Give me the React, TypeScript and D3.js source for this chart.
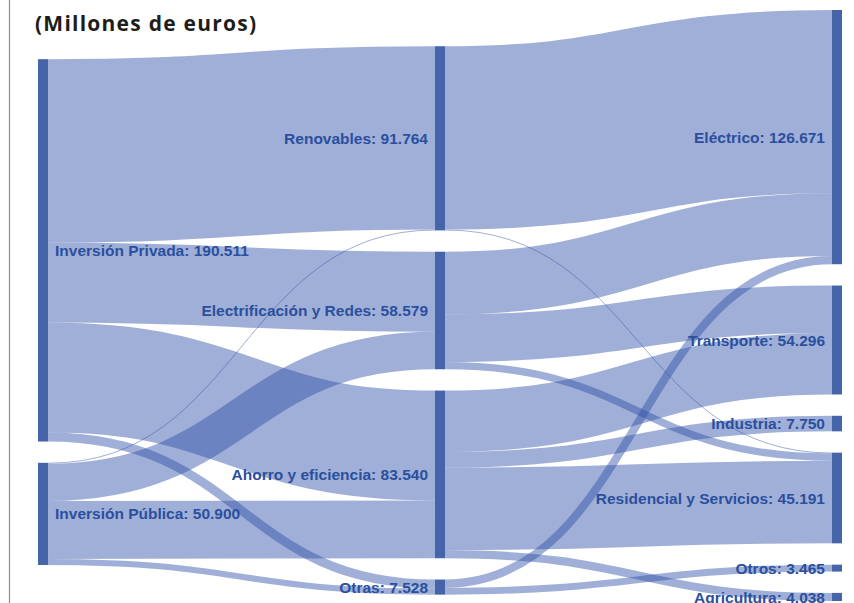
import { useMemo } from "react";
import * as d3 from "d3";

const W = 854;
const H = 603;

// columnas del diagrama
const fuentes = ["Inversión Privada", "Inversión Pública"];
const ambitos = ["Renovables", "Electrificación y Redes", "Ahorro y eficiencia", "Otras"];
const sectores = ["Eléctrico", "Transporte", "Industria", "Residencial y Servicios", "Otros", "Agricultura"];

// flujos en millones de euros
const flujosInversion: [string, string, number][] = [
  ["Inversión Privada", "Renovables", 91364],
  ["Inversión Privada", "Electrificación y Redes", 39900],
  ["Inversión Privada", "Ahorro y eficiencia", 54750],
  ["Inversión Privada", "Otras", 4497],
  ["Inversión Pública", "Renovables", 400],
  ["Inversión Pública", "Electrificación y Redes", 18679],
  ["Inversión Pública", "Ahorro y eficiencia", 28790],
  ["Inversión Pública", "Otras", 3031],
];

const flujosSector: [string, string, number][] = [
  ["Renovables", "Eléctrico", 91364],
  ["Renovables", "Residencial y Servicios", 400],
  ["Electrificación y Redes", "Eléctrico", 31244],
  ["Electrificación y Redes", "Transporte", 23696],
  ["Electrificación y Redes", "Residencial y Servicios", 3639],
  ["Ahorro y eficiencia", "Transporte", 30600],
  ["Ahorro y eficiencia", "Industria", 7750],
  ["Ahorro y eficiencia", "Residencial y Servicios", 41152],
  ["Ahorro y eficiencia", "Agricultura", 4038],
  ["Otras", "Eléctrico", 4063],
  ["Otras", "Otros", 3465],
];

type SNode = {
  name: string; index: number; layer: number; value: number;
  sourceLinks: SLink[]; targetLinks: SLink[];
  x0: number; x1: number; y0: number; y1: number;
};
type SLink = { source: SNode; target: SNode; value: number; index: number; width: number; y0: number; y1: number };

// sankey al estilo del plugin clásico de d3: apilado inicial, una pasada
// de relajación de derecha a izquierda y luego resolución de solapes (orden fijo)
function layoutSankey(cols: string[][], flows: [string, string, number][],
  x0: number, x1: number, y0: number, y1: number, dx: number, py: number) {
  const byName = new Map<string, SNode>();
  const nodes: SNode[] = [];
  cols.forEach((col, layer) => col.forEach((name) => {
    const n: SNode = { name, index: nodes.length, layer, value: 0, sourceLinks: [], targetLinks: [], x0: 0, x1: 0, y0: 0, y1: 0 };
    nodes.push(n); byName.set(name, n);
  }));
  const links: SLink[] = flows.map(([s, t, v], i) => ({ source: byName.get(s)!, target: byName.get(t)!, value: v, index: i, width: 0, y0: 0, y1: 0 }));
  links.forEach((l) => { l.source.sourceLinks.push(l); l.target.targetLinks.push(l); });
  nodes.forEach((n) => { n.value = Math.max(d3.sum(n.sourceLinks, (l) => l.value), d3.sum(n.targetLinks, (l) => l.value)); });

  const columns = cols.map((c) => c.map((name) => byName.get(name)!));
  const kx = (x1 - x0 - dx) / (columns.length - 1);
  nodes.forEach((n) => { n.x0 = x0 + n.layer * kx; n.x1 = n.x0 + dx; });

  const ky = d3.min(columns, (c) => (y1 - y0 - (c.length - 1) * py) / d3.sum(c, (n) => n.value))!;
  links.forEach((l) => { l.width = l.value * ky; });
  const move = (n: SNode, d: number) => { n.y0 += d; n.y1 += d; };
  const center = (n: SNode) => (n.y0 + n.y1) / 2;

  const resolve = (col: SNode[]) => {
    let y = y0;
    for (const n of col) { const d = y - n.y0; if (d > 0) move(n, d); y = n.y1 + py; }
    const over = y - py - y1;
    if (over > 0) {
      const last = col[col.length - 1];
      move(last, -over); y = last.y0;
      for (let i = col.length - 2; i >= 0; --i) {
        const n = col[i]; const d = n.y1 + py - y; if (d > 0) move(n, -d); y = n.y0;
      }
    }
  };

  columns.forEach((col) => col.forEach((n, i) => { n.y0 = y0 + i; n.y1 = n.y0 + n.value * ky; }));
  columns.forEach(resolve);

  const alpha = 0.99;
  for (let i = columns.length - 2; i >= 0; --i) {
    for (const n of columns[i]) {
      if (!n.sourceLinks.length) continue;
      const y = d3.sum(n.sourceLinks, (l) => center(l.target) * l.value) / d3.sum(n.sourceLinks, (l) => l.value);
      move(n, (y - center(n)) * alpha);
    }
  }
  columns.forEach(resolve);

  for (const n of nodes) {
    n.sourceLinks.sort((a, b) => a.target.y0 - b.target.y0);
    n.targetLinks.sort((a, b) => a.source.y0 - b.source.y0);
    let a = n.y0, b = n.y0;
    for (const l of n.sourceLinks) { l.y0 = a + l.width / 2; a += l.width; }
    for (const l of n.targetLinks) { l.y1 = b + l.width / 2; b += l.width; }
  }
  return { nodes, links };
}

const fmt = d3.formatLocale({ decimal: ",", thousands: ".", grouping: [3], currency: ["", "€"] }).format(",d");

export default function App() {
  const { nodes, links } = useMemo(
    () => layoutSankey([fuentes, ambitos, sectores], [...flujosInversion, ...flujosSector], 38, 842, 10, 601, 10, 21.3),
    []
  );
  const path = d3.linkHorizontal<SLink, [number, number]>()
    .source((l) => [l.source.x1, l.y0])
    .target((l) => [l.target.x0, l.y1]);

  return (
    <div>
      <style>{"body{margin:0}"}</style>
      <svg width={W} height={H} style={{ display: "block", background: "#fff" }}>
        <line x1={9.5} x2={9.5} y1={0} y2={H} stroke="#8c8c8c" strokeWidth={1.2} />
        <g fill="none" stroke="#2c4da6" strokeOpacity={0.45}>
          {links.map((l) => (
            <path key={l.index} d={path(l) ?? ""} strokeWidth={Math.max(1, l.width)} />
          ))}
        </g>
        <g fill="#4564a9">
          {nodes.map((n) => (
            <rect key={n.name} x={n.x0} y={n.y0} width={n.x1 - n.x0} height={Math.max(1, n.y1 - n.y0)} />
          ))}
        </g>
        <g fontFamily="'Liberation Sans', Arial, sans-serif" fontWeight="bold" fontSize={15.5} fill="#2a4f9e">
          {nodes.map((n) => (
            <text
              key={n.name}
              x={n.layer === 0 ? n.x1 + 7 : n.x0 - 7}
              y={(n.y0 + n.y1) / 2}
              dy="0.36em"
              textAnchor={n.layer === 0 ? "start" : "end"}
            >
              {`${n.name}: ${fmt(n.value)}`}
            </text>
          ))}
        </g>
        <text x={35} y={31} fontFamily="'Open Sans', sans-serif" fontWeight="bold" fontSize={21}
          textLength={221} lengthAdjust="spacing" fill="#1d1d1b">
          (Millones de euros)
        </text>
      </svg>
    </div>
  );
}
